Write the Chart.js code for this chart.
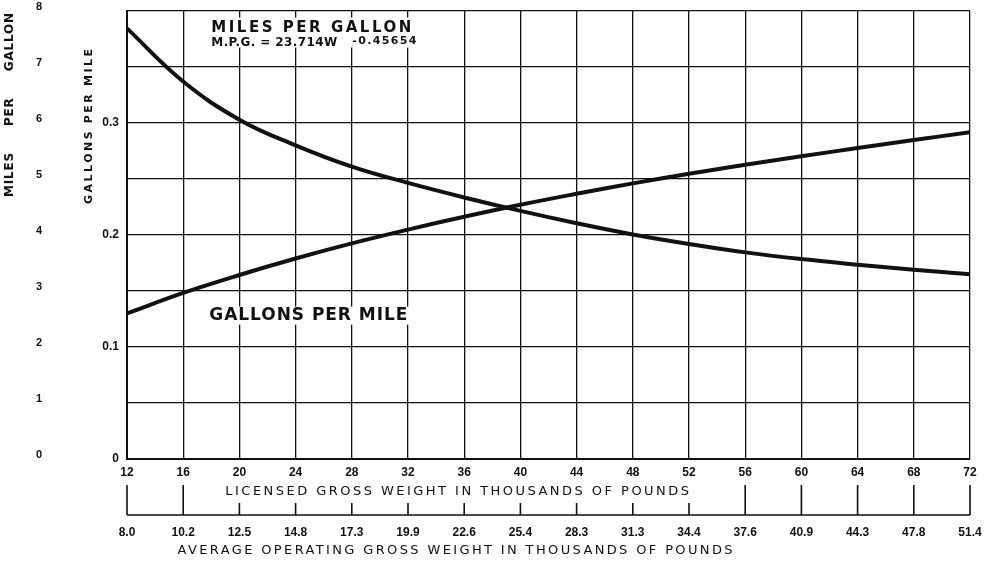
<!DOCTYPE html>
<html>
<head>
<meta charset="utf-8">
<script src="https://cdn.jsdelivr.net/npm/chart.js@4.4.1/dist/chart.umd.min.js"></script>
<style>
  html, body { margin: 0; padding: 0; background: #fff; }
  #wrap { width: 985px; height: 566px; }
</style>
</head>
<body>
<div id="wrap"><canvas id="mpgChart" width="985" height="566"></canvas></div>
<script>
// licensed gross weight (thousands of lb) - main x axis
const licensedWeight = [12, 16, 20, 24, 28, 32, 36, 40, 44, 48, 52, 56, 60, 64, 68, 72];
// average operating gross weight shown under each licensed weight
const operatingWeight = ['8.0', '10.2', '12.5', '14.8', '17.3', '19.9', '22.6', '25.4',
                         '28.3', '31.3', '34.4', '37.6', '40.9', '44.3', '47.8', '51.4'];
// values
const mpgValues = [7.69, 6.74, 6.06, 5.60, 5.22, 4.93, 4.67, 4.43,
                   4.21, 4.01, 3.84, 3.69, 3.57, 3.47, 3.38, 3.30];
const gpmValues = [0.130, 0.1483, 0.1643, 0.1790, 0.1925, 0.2048, 0.2163, 0.2270,
                   0.2368, 0.2461, 0.2547, 0.2627, 0.2703, 0.2776, 0.2848, 0.2917];

const INK = '#111';
const tickFont = { family: 'Liberation Sans', weight: 'bold', size: 12 };

// draw text stretched to a given width with even letter spacing
function fitText(ctx, text, x, y, width) {
  ctx.letterSpacing = '0px';
  const w0 = ctx.measureText(text).width;
  const ls = (width - w0) / (text.length - 1);
  ctx.letterSpacing = ls + 'px';
  ctx.textAlign = 'left';
  ctx.fillText(text, x, y);
  ctx.letterSpacing = '0px';
}

// draw words with fixed letter spacing and the word gaps stretched to fill width
function spreadWords(ctx, text, x, y, width, ls) {
  ctx.letterSpacing = '0px';
  const words = text.split(' ');
  const sizes = words.map(w => ctx.measureText(w).width + ls * (w.length - 1));
  const used = sizes.reduce((a, b) => a + b, 0);
  const gap = (width - used) / (words.length - 1);
  ctx.letterSpacing = ls + 'px';
  ctx.textAlign = 'left';
  let cx = x;
  words.forEach((w, i) => {
    ctx.fillText(w, cx, y);
    cx += sizes[i] + gap;
  });
  ctx.letterSpacing = '0px';
}

// stop the scales from reserving extra room for their end labels
function noEdgePadding(s) {
  s.paddingLeft = 0; s.paddingRight = 0;
  s.paddingTop = 0; s.paddingBottom = 0;
}

const labelsPlugin = {
  id: 'chartLabels',
  afterDraw(chart) {
    const { ctx, scales } = chart;
    const x = scales.x, x2 = scales.x2, mpg = scales.mpg;
    ctx.save();
    ctx.fillStyle = INK;
    ctx.strokeStyle = INK;
    ctx.textBaseline = 'middle';

    // left axis titles (rotated)
    ctx.font = 'bold 12px "DejaVu Sans"';
    ctx.save();
    ctx.translate(10, 105);
    ctx.rotate(-Math.PI / 2);
    spreadWords(ctx, 'MILES PER GALLON', -92, 0, 184, 0.8);
    ctx.restore();

    ctx.font = 'bold 11px "DejaVu Sans"';
    ctx.save();
    ctx.translate(89, 126);
    ctx.rotate(-Math.PI / 2);
    spreadWords(ctx, 'GALLONS PER MILE', -78, 0, 155, 2.5);
    ctx.restore();

    // labels inside the plot, on a white patch
    const lx = x.getPixelForValue(18);
    ctx.fillStyle = '#fff';
    ctx.fillRect(lx - 4, mpg.getPixelForValue(7.74) - 8, 208, 30);
    ctx.fillRect(lx - 4, mpg.getPixelForValue(2.56) - 9, 206, 18);
    ctx.fillStyle = INK;

    ctx.font = '600 15px "DejaVu Sans"';
    fitText(ctx, 'MILES PER GALLON', lx, mpg.getPixelForValue(7.70), 200);
    ctx.font = '600 12px "DejaVu Sans"';
    fitText(ctx, 'M.P.G. = 23.714W', lx, mpg.getPixelForValue(7.43), 126);
    ctx.font = '600 11px "DejaVu Sans"';
    fitText(ctx, '-0.45654', lx + 141, mpg.getPixelForValue(7.47), 64);

    ctx.font = '600 17px "DejaVu Sans"';
    fitText(ctx, 'GALLONS PER MILE', lx - 2, mpg.getPixelForValue(2.56), 198);

    // x axis titles
    ctx.font = '13px "DejaVu Sans"';
    const t1a = x.getPixelForValue(19), t1b = x.getPixelForValue(52);
    fitText(ctx, 'LICENSED GROSS WEIGHT IN THOUSANDS OF POUNDS', t1a, x.top + 33, t1b - t1a);
    const t2a = x2.getPixelForValue(15.6), t2b = x2.getPixelForValue(55.1);
    fitText(ctx, 'AVERAGE OPERATING GROSS WEIGHT IN THOUSANDS OF POUNDS', t2a, x2.top + 62, t2b - t2a);

    // second x axis: base line with ticks pointing up
    const yLine = x2.top + 26;
    ctx.lineWidth = 1.6;
    ctx.beginPath();
    ctx.moveTo(x2.getPixelForValue(licensedWeight[0]), yLine);
    ctx.lineTo(x2.getPixelForValue(licensedWeight[licensedWeight.length - 1]), yLine);
    licensedWeight.forEach(v => {
      const px = x2.getPixelForValue(v);
      const short = px > t1a - 6 && px < t1b + 6;
      ctx.moveTo(px, yLine);
      ctx.lineTo(px, short ? yLine - 12 : x2.top - 4);
    });
    ctx.stroke();
    ctx.restore();
  }
};

const ctx = document.getElementById('mpgChart').getContext('2d');
const fuelChart = new Chart(ctx, {
  type: 'line',
  data: {
    datasets: [{
      label: 'Miles per gallon',
      data: licensedWeight.map((w, i) => ({ x: w, y: mpgValues[i] })),
      yAxisID: 'mpg',
      borderColor: INK,
      borderWidth: 4,
      pointRadius: 0,
      tension: 0.4,
      fill: false
    }, {
      label: 'Gallons per mile',
      data: licensedWeight.map((w, i) => ({ x: w, y: gpmValues[i] })),
      yAxisID: 'gpm',
      borderColor: INK,
      borderWidth: 4,
      pointRadius: 0,
      tension: 0.4,
      fill: false
    }]
  },
  options: {
    responsive: false,
    animation: false,
    layout: { padding: { top: 11, right: 15, left: 0, bottom: 0 } },
    plugins: {
      legend: { display: false },
      tooltip: { enabled: false }
    },
    scales: {
      x: {
        type: 'linear',
        position: 'bottom',
        min: 12,
        max: 72,
        afterBuildTicks: s => { s.ticks = licensedWeight.map(v => ({ value: v })); },
        afterFit: s => { s.height = 30; noEdgePadding(s); },
        ticks: { font: tickFont, color: INK, padding: 6, maxRotation: 0, autoSkip: false,
                 callback: v => String(v) },
        grid: { color: INK, lineWidth: 1.3, drawTicks: false },
        border: { color: INK, width: 2 }
      },
      x2: {
        type: 'linear',
        position: 'bottom',
        min: 12,
        max: 72,
        afterBuildTicks: s => { s.ticks = licensedWeight.map(v => ({ value: v })); },
        afterFit: s => { s.height = 77; noEdgePadding(s); },
        ticks: { font: tickFont, color: INK, padding: 36, maxRotation: 0, autoSkip: false,
                 callback: v => operatingWeight[licensedWeight.indexOf(v)] },
        grid: { display: false, drawTicks: false },
        border: { display: false }
      },
      mpg: {
        type: 'linear',
        position: 'left',
        weight: 1,
        min: 0,
        max: 8,
        afterFit: s => { s.width = 55; noEdgePadding(s); },
        ticks: { stepSize: 1, font: { family: 'Liberation Sans', weight: 'bold', size: 11 },
                 color: INK, padding: 13, crossAlign: 'center', labelOffset: -4 },
        grid: { color: INK, lineWidth: 1.3, drawTicks: false },
        border: { display: false }
      },
      gpm: {
        type: 'linear',
        position: 'left',
        weight: 0,
        min: 0,
        max: 0.4,
        afterFit: s => { s.width = 72; noEdgePadding(s); },
        ticks: { stepSize: 0.1, font: tickFont, color: INK, padding: 8,
                 callback: v => (v > 0.35 ? '' : (v === 0 ? '0' : v.toFixed(1))) },
        grid: { drawOnChartArea: false, drawTicks: false },
        border: { color: INK, width: 2 }
      }
    }
  },
  plugins: [labelsPlugin]
});
</script>
</body>
</html>
